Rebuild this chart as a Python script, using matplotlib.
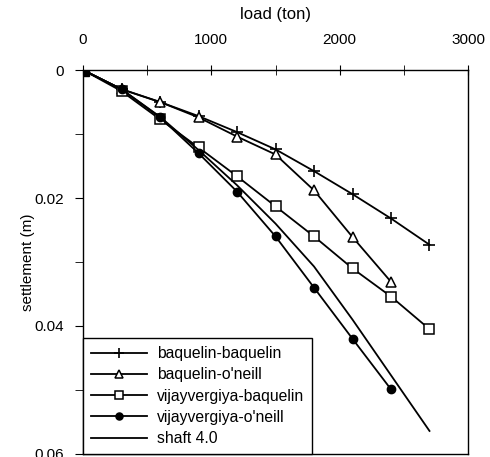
import matplotlib.pyplot as plt
from matplotlib.ticker import MultipleLocator, FixedLocator

plt.rcParams['font.family'] = ['Liberation Sans', 'DejaVu Sans']

load = [0, 300, 600, 900, 1200, 1500, 1800, 2100, 2400, 2700]
baq_baq = [0, 0.0030, 0.0050, 0.0072, 0.0097, 0.0124, 0.0158, 0.0194, 0.0232, 0.0273]
baq_oneill = [0, 0.0030, 0.0050, 0.0074, 0.0104, 0.0132, 0.0188, 0.0261, 0.0331]
vij_baq = [0, 0.0033, 0.0077, 0.0121, 0.0166, 0.0213, 0.0260, 0.0310, 0.0354, 0.0405]
vij_oneill = [0, 0.0030, 0.0074, 0.0130, 0.0190, 0.0260, 0.0340, 0.0420, 0.0499]
shaft = [0, 0.0030, 0.0073, 0.0125, 0.0180, 0.0240, 0.0307, 0.0390, 0.0477, 0.0564]

fig = plt.figure(figsize=(4.9, 4.57), dpi=100)
ax = fig.add_axes([0.1694, 0.0066, 0.7857, 0.8402])

ax.plot(load, baq_baq, color='black', lw=1.3, marker='+', ms=9, mew=1.2,
        label='baquelin-baquelin')
ax.plot(load[:9], baq_oneill, color='black', lw=1.3, marker='^', ms=7,
        mfc='white', mew=1.1, label="baquelin-o'neill")
ax.plot(load, vij_baq, color='black', lw=1.3, marker='s', ms=7,
        mfc='white', mew=1.1, label='vijayvergiya-baquelin')
ax.plot(load[:9], vij_oneill, color='black', lw=1.3, marker='o', ms=6,
        label="vijayvergiya-o'neill")
ax.plot(load, shaft, color='black', lw=1.3, label='shaft 4.0')
ax.plot([0], [0], color='black', marker='s', ms=8, ls='none')

ax.set_xlim(0, 3000)
ax.set_ylim(0.06, 0)
ax.xaxis.tick_top()
ax.xaxis.set_label_position('top')
ax.xaxis.set_major_locator(MultipleLocator(1000))
ax.xaxis.set_minor_locator(MultipleLocator(500))
ax.yaxis.set_major_locator(FixedLocator([0, 0.02, 0.04, 0.06]))
ax.yaxis.set_minor_locator(FixedLocator([0.01, 0.03, 0.05]))
ax.set_yticklabels(['0', '0.02', '0.04', '0.06'])
ax.tick_params(axis='x', which='both', direction='inout', length=7, labelsize=11, pad=13)
ax.tick_params(axis='y', which='both', direction='out', length=6, labelsize=11, pad=8)
ax.set_xlabel('load (ton)', fontsize=12, labelpad=10)
ax.set_ylabel('settlement (m)', fontsize=11, labelpad=-1)
for s in ax.spines.values():
    s.set_linewidth(1.0)

leg = ax.legend(loc='lower left', fontsize=11.3, handlelength=3.6,
                fancybox=False, edgecolor='black', framealpha=1,
                borderaxespad=0, labelspacing=0.4, borderpad=0.5,
                handletextpad=0.6, markerscale=0.85)
leg.get_frame().set_linewidth(1.0)

fig.savefig('out.png', dpi=100)
